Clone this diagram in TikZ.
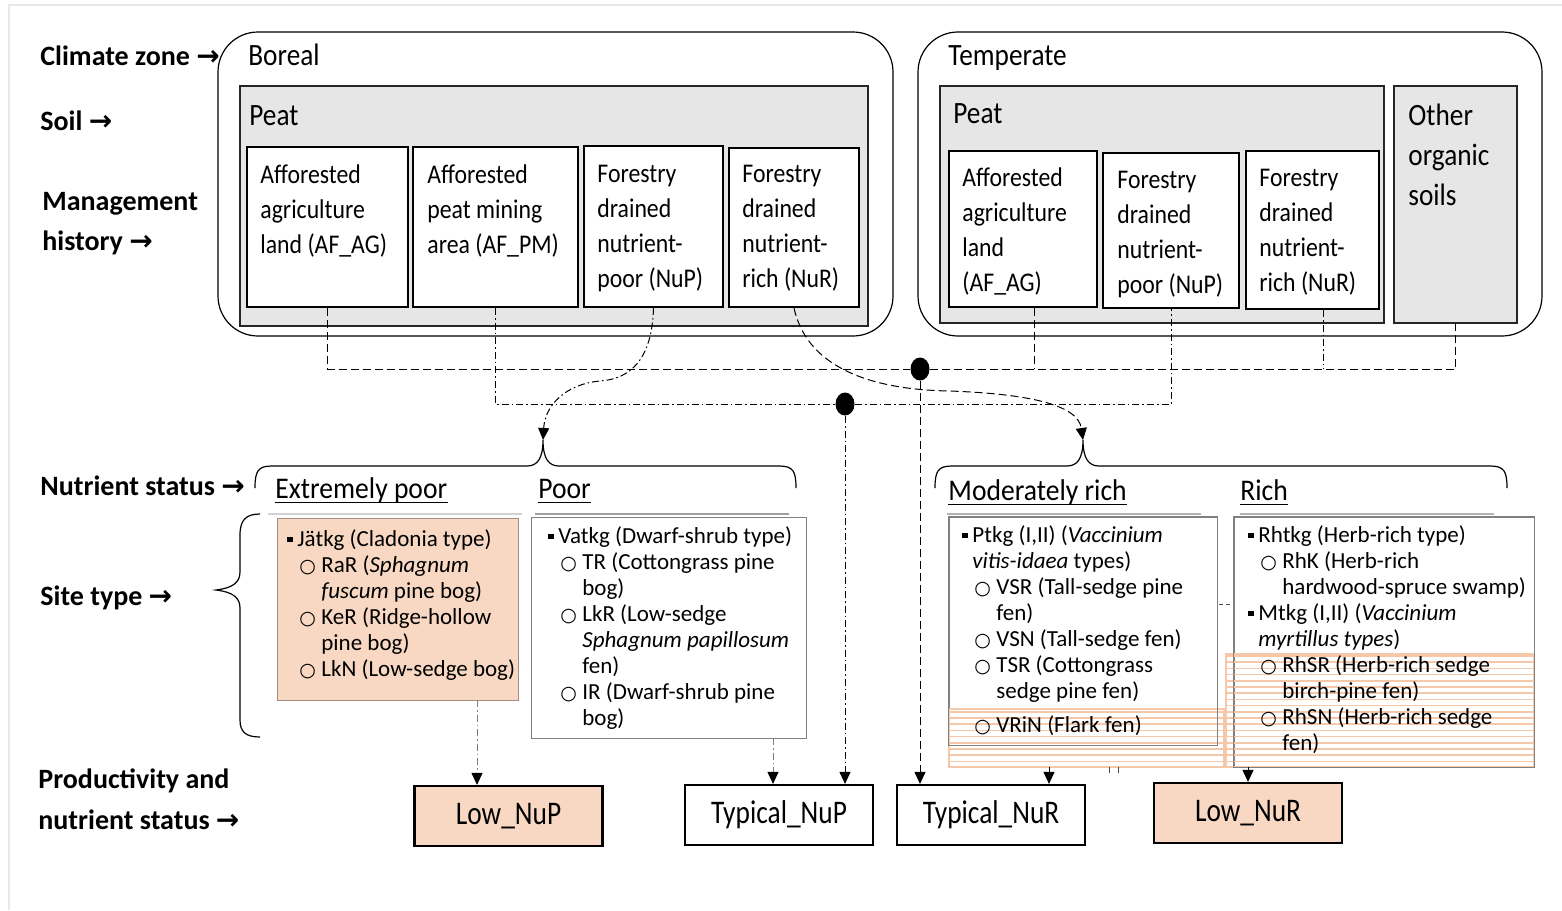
\documentclass[tikz,border=0pt]{standalone}
\usepackage{fontspec}
\setmainfont{Carlito}
\newfontfamily\fA{Carlito}[FakeStretch=0.88]
\newfontfamily\fB{Carlito}[FakeStretch=0.92]
\newfontfamily\fC{Carlito}[FakeStretch=0.83]
\newfontfamily\dvs{DejaVu Sans}
\usetikzlibrary{arrows.meta,fit,shapes.geometric,calc}
\definecolor{peach}{RGB}{248,216,194}
\definecolor{stripec}{RGB}{246,200,170}
\definecolor{peatgray}{RGB}{230,230,230}
\definecolor{lboxgray}{RGB}{128,128,128}
\definecolor{epborder}{RGB}{165,140,128}
\definecolor{framegray}{RGB}{232,232,232}
\newcommand\arw{{\dvs\bfseries →}}
\newcommand\bsq{\makebox[5pt][l]{\rule[2.2pt]{2.6pt}{2.6pt}}}
\newcommand\bsin{\hspace*{5pt}}
\newcommand\bci{\makebox[17pt][l]{\hspace*{6pt}{\dvs\fontsize{9.5}{9.5}\selectfont ○}}}
\newcommand\bin{\hspace*{17pt}}
\begin{document}
\begin{tikzpicture}[x=0.5pt,y=-0.5pt,
  zone/.style={draw=black, line width=0.6pt, rounded corners=20pt, inner sep=0},
  peat/.style={draw=black!85, fill=peatgray, line width=1.2pt, inner sep=0},
  mbox/.style={draw=black, fill=white, line width=1pt, inner sep=0},
  lbox/.style={draw=lboxgray, fill=white, line width=0.5pt, inner sep=0},
  obox/.style={draw=black, line width=1.1pt, minimum width=94pt, minimum height=30pt, inner sep=0, font=\fC\fontsize{16.5}{18}\selectfont},
  dot/.style={ellipse, fill=black, minimum width=9.5pt, minimum height=11.5pt, inner sep=0},
  dsh/.style={line width=0.5pt, dash pattern=on 4pt off 2pt},
  dd/.style={line width=0.5pt, dash pattern=on 3.5pt off 1.5pt on 0.8pt off 1.5pt},
  gdd/.style={dd, draw=gray},
  arr/.style={-{Triangle[length=6pt,width=5.5pt,color=black]}},
  brc/.style={line width=0.6pt},
  lbl/.style={font=\bfseries\fontsize{14}{20}\selectfont, inner sep=0, anchor=north west, align=left},
  ttl/.style={font=\fA\fontsize{15.5}{20}\selectfont, inner sep=0, anchor=base west, align=left},
  mtx/.style={font=\fA\fontsize{13.5}{17.5}\selectfont, inner sep=0, anchor=north west, align=left},
  hd/.style={font=\fB\fontsize{15}{18}\selectfont, inner sep=0, anchor=base west},
  ltx/.style={font=\fontsize{11.5}{13}\selectfont, inner sep=0, anchor=north west, align=left},
  stripe/.style={draw=stripec, line width=0.8pt},
  hline/.style={line width=0.8pt}
]
\useasboundingbox (0,0) rectangle (1562,910);
\fill[white] (0,0) rectangle (1562,910);
\draw[framegray, line width=1pt] (9,910) -- (9,5) -- (1562,5);

% left labels
\node[lbl, anchor=base west] (lzone) at (40,65) {Climate zone \arw};
\node[lbl, anchor=base west] (lsoil) at (40,130) {Soil \arw};
\node[lbl] (lman) at (42,188) {\rule{0pt}{11pt}Management\\history \arw};
\node[lbl, anchor=base west] (lnut) at (40,495) {Nutrient status \arw};
\node[lbl, anchor=base west] (lsite) at (40,605) {Site type \arw};
\node[lbl, font=\bfseries\fontsize{14}{20.5}\selectfont] (lprod) at (38,766) {\rule{0pt}{11pt}Productivity and\\nutrient status \arw};

% climate zones
\node[zone, fit={(218,32)(893,336)}] (boreal) {};
\node[zone, fit={(918,32)(1542,336)}] (temper) {};
\node[ttl] (borT) at (248,65) {Boreal};
\node[ttl] (temT) at (948,65) {Temperate};

% soils
\node[peat, fit={(240,86)(868,326)}] (bpeat) {};
\node[peat, fit={(940,86)(1384,323)}] (tpeat) {};
\node[peat, fit={(1394,86)(1517,323)}] (tOth) {};
\node[ttl] (bpeatT) at (249,125) {Peat};
\node[ttl] (tpeatT) at (953,123) {Peat};
\node[ttl, anchor=north west] (tOthT) at (1408,101) {\rule{0pt}{12pt}Other\\organic\\soils};

% management boxes
\node[mbox, fit={(247,147)(408,307)}] (bAG) {};
\node[mbox, fit={(413,147)(578,307)}] (bPM) {};
\node[mbox, fit={(584,146)(723,307)}] (bNuP) {};
\node[mbox, fit={(729,148)(859,307)}] (bNuR) {};
\node[mbox, fit={(949,151)(1097,307)}] (tAG) {};
\node[mbox, fit={(1103,153)(1239,308)}] (tNuP) {};
\node[mbox, fit={(1246,151)(1379,309)}] (tNuR) {};
\node[mtx] (bAGt) at (260,161) {\rule{0pt}{11pt}Afforested\\agriculture\\land (AF\_AG)};
\node[mtx] (bPMt) at (427,161) {\rule{0pt}{11pt}Afforested\\peat mining\\area (AF\_PM)};
\node[mtx] (bNuPt) at (597,160) {\rule{0pt}{11pt}Forestry\\drained\\nutrient-\\poor (NuP)};
\node[mtx] (bNuRt) at (742,160) {\rule{0pt}{11pt}Forestry\\drained\\nutrient-\\rich (NuR)};
\node[mtx] (tAGt) at (962,164) {\rule{0pt}{11pt}Afforested\\agriculture\\land\\(AF\_AG)};
\node[mtx] (tNuPt) at (1117,166) {\rule{0pt}{11pt}Forestry\\drained\\nutrient-\\poor (NuP)};
\node[mtx] (tNuRt) at (1259,164) {\rule{0pt}{11pt}Forestry\\drained\\nutrient-\\rich (NuR)};

% nutrient status headings
\node[hd] (hEP) at (275,498) {Extremely poor};
\node[hd] (hP) at (538,498) {Poor};
\node[hd] (hMR) at (948,500) {Moderately rich};
\node[hd] (hR) at (1240,500) {Rich};
\foreach \n in {hEP,hP,hMR,hR}
  \draw[line width=0.75pt] ([yshift=-2.3pt]\n.base west) -- ([yshift=-2.3pt]\n.base east);
\draw[gray!35, line width=0.7pt] (268,514) -- (522,514);
\draw[gray!75, line width=1.1pt] (535,514) -- (789,514);
\draw[gray!60, line width=1pt] (947,514) -- (1201,514);
\draw[gray!60, line width=1pt] (1240,514) -- (1494,514);

% braces
\coordinate (tip1) at (543,440);
\coordinate (tip2) at (1083,440);
\draw[brc] (255,488) .. controls (255,471) and (258,466) .. (272,466) -- (527,466)
  .. controls (537,466) and (543,459) .. (tip1)
  .. controls (543,459) and (549,466) .. (559,466) -- (779,466)
  .. controls (793,466) and (796,471) .. (796,488);
\draw[brc] (935,488) .. controls (935,471) and (938,466) .. (952,466) -- (1067,466)
  .. controls (1077,466) and (1083,459) .. (tip2)
  .. controls (1083,459) and (1089,466) .. (1099,466) -- (1490,466)
  .. controls (1504,466) and (1507,471) .. (1507,488);
\coordinate (tip3) at (216,590);
\draw[brc] (260,514) .. controls (246,514) and (240,520) .. (240,535) -- (240,572)
  .. controls (240,583) and (232,588) .. (tip3)
  .. controls (232,592) and (240,597) .. (240,608) -- (240,720)
  .. controls (240,732) and (246,737) .. (260,737);

% site type boxes
\node[lbox, fill=peach, draw=epborder, fit={(277,518)(518,700)}] (epBox) {};
\node[lbox, fit={(531,517)(806,738)}] (pBox) {};
\node[lbox, fit={(949,517)(1217,745)}] (mrBox) {};
\node[lbox, fit={(1234,517)(1534,767)}] (rBox) {};

% stripes
\foreach \y in {656,662.2,...,767} \draw[stripe] (1226,\y) -- (1534,\y);
\foreach \y in {711.8,718,...,767} \draw[stripe] (949,\y) -- (1224,\y);
\draw[stripec, line width=0.6pt] (949,709) rectangle (1224,767);
\draw[stripec, line width=0.6pt] (1226,654) rectangle (1534,767);
\draw[lboxgray, line width=0.5pt] (mrBox.north west) rectangle (mrBox.south east);
\draw[lboxgray, line width=0.5pt] (rBox.north west) rectangle (rBox.south east);

% site type texts
\node[ltx] (epT) at (287,526) {\rule{0pt}{10pt}\bsq Jätkg (Cladonia type)\\
\bci RaR (\textit{Sphagnum}\\
\bin\textit{fuscum} pine bog)\\
\bci KeR (Ridge-hollow\\
\bin pine bog)\\
\bci LkN (Low-sedge bog)};
\node[ltx] (pT) at (548,523) {\rule{0pt}{10pt}\bsq Vatkg (Dwarf-shrub type)\\
\bci TR (Cottongrass pine\\
\bin bog)\\
\bci LkR (Low-sedge\\
\bin\textit{Sphagnum papillosum}\\
\bin fen)\\
\bci IR (Dwarf-shrub pine\\
\bin bog)};
\node[ltx] (mrT) at (962,522) {\rule{0pt}{10pt}\bsq Ptkg (I,II) (\textit{Vaccinium}\\
\bsin\textit{vitis-idaea} types)\\
\bci VSR (Tall-sedge pine\\
\bin fen)\\
\bci VSN (Tall-sedge fen)\\
\bci TSR (Cottongrass\\
\bin sedge pine fen)\\[4pt]
\bci VRiN (Flark fen)};
\node[ltx] (rT) at (1248,522) {\rule{0pt}{10pt}\bsq Rhtkg (Herb-rich type)\\
\bci RhK (Herb-rich\\
\bin hardwood-spruce swamp)\\
\bsq Mtkg (I,II) (\textit{Vaccinium}\\
\bsin\textit{myrtillus types})\\
\bci RhSR (Herb-rich sedge\\
\bin birch-pine fen)\\
\bci RhSN (Herb-rich sedge\\
\bin fen)};

% small marks
\draw[black!70, line width=0.4pt, dash pattern=on 2pt off 1.5pt] (1219,604) -- (1232,604);
\draw[black!70, line width=0.4pt] (1109,767) -- (1109,773) (1118,767) -- (1118,773);

% output boxes
\node[obox, fill=peach] (LNuP) at (508.5,816) {Low\_NuP};
\node[obox, fill=white] (TNuP) at (779,815) {Typical\_NuP};
\node[obox, fill=white] (TNuR) at (991,815) {Typical\_NuR};
\node[obox, fill=peach] (LNuR) at (1248,813) {Low\_NuR};

% dots
\node[dot] (d1) at (920,369) {};
\node[dot] (d2) at (845,404) {};

% connectors to dot 1 (dashed)
\coordinate (tAGb) at ([xshift=5.5pt]tAG.south);
\coordinate (tNuRb) at ([xshift=5.25pt]tNuR.south);
\draw[dsh] (bAG.south) |- (d1.west);
\draw[dsh] (d1.east) -- (tOth.south |- d1.east) -- (tOth.south);
\draw[dsh] (tAGb) -- (tAGb |- d1.east);
\draw[dd] (tNuRb) -- (tNuRb |- d1.east);
\draw[dsh,arr] (d1.south) -- (d1.south |- TNuR.north);

% connectors to dot 2 (dash-dot)
\draw[dd] (bPM.south) |- (d2.west);
\draw[dd] (d2.east) -- (tNuP.south |- d2.east) -- (tNuP.south);
\draw[dd,arr] (d2.south) -- (d2.south |- TNuP.north);

% curves to nutrient braces
\draw[dd,arr] (bNuP.south) .. controls (652,360) and (630,379) .. (600,381)
  .. controls (566,384) and (545,405) .. (tip1);
\draw[dsh,arr] (bNuR.south) .. controls (808,372) and (880,390) .. (950,391)
  .. controls (1030,394) and (1078,405) .. (tip2);

% arrows into output boxes
\coordinate (a1) at (477,700);
\coordinate (a2) at (773,738);
\coordinate (a3) at (1049,767);
\coordinate (a4) at (1248,767);
\draw[gdd,arr] (a1) -- (a1 |- LNuP.north);
\draw[gdd,arr] (a2) -- (a2 |- TNuP.north);
\draw[dd,arr] (a3) -- (a3 |- TNuR.north);
\draw[dd,arr] (a4) -- (a4 |- LNuR.north);
\end{tikzpicture}
\end{document}
